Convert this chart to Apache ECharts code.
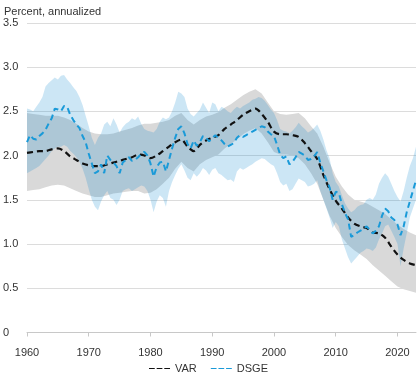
<!DOCTYPE html>
<html><head><meta charset="utf-8">
<script src="https://cdn.jsdelivr.net/npm/echarts@6/dist/echarts.min.js"></script>
<style>html,body{margin:0;padding:0;background:#fff}#c{width:417px;height:384px}</style>
</head><body><div id="c"></div>
<script>
// Annual VAR estimates, 1960-2023
const varStart = 1960;
const varLine = [
  2.03,2.04,2.05,2.05,2.07,2.08,2.05,1.99,1.95,1.91,
  1.89,1.88,1.88,1.90,1.92,1.94,1.96,1.98,2.01,2.00,
  1.97,2.00,2.05,2.10,2.15,2.18,2.10,2.05,2.12,2.17,
  2.20,2.23,2.30,2.35,2.40,2.46,2.50,2.53,2.47,2.38,
  2.27,2.24,2.24,2.23,2.21,2.14,2.05,1.96,1.78,1.62,
  1.49,1.40,1.30,1.23,1.20,1.18,1.13,1.12,1.07,0.97,
  0.88,0.82,0.78,0.76];
const varUpper = [
  2.48,2.47,2.46,2.45,2.45,2.45,2.43,2.40,2.36,2.31,
  2.27,2.25,2.24,2.24,2.25,2.27,2.29,2.31,2.34,2.36,
  2.36,2.37,2.38,2.40,2.45,2.48,2.40,2.35,2.40,2.44,
  2.46,2.49,2.54,2.58,2.63,2.68,2.72,2.75,2.70,2.60,
  2.50,2.47,2.46,2.47,2.48,2.42,2.33,2.25,2.10,1.92,
  1.76,1.65,1.56,1.50,1.48,1.46,1.42,1.38,1.34,1.28,
  1.22,1.17,1.13,1.10];
const varLower = [
  1.60,1.61,1.62,1.64,1.66,1.67,1.66,1.63,1.60,1.57,
  1.55,1.53,1.53,1.55,1.57,1.58,1.59,1.60,1.60,1.57,
  1.58,1.62,1.68,1.75,1.85,1.93,1.86,1.82,1.90,1.95,
  1.98,2.01,2.08,2.13,2.18,2.24,2.28,2.31,2.25,2.15,
  2.04,2.01,2.01,2.00,1.97,1.90,1.80,1.68,1.50,1.32,
  1.18,1.08,0.99,0.93,0.88,0.83,0.76,0.70,0.64,0.58,
  0.52,0.49,0.47,0.45];

// Half-yearly DSGE estimates, 1960.0-2023.0
const dsgeStart = 1960, dsgeStep = 0.5;
const dsgeLine = [
  2.15,2.23,2.19,2.18,2.22,2.25,2.29,2.36,2.42,2.53, 2.52,2.50,2.56,2.55,2.46,2.40,2.35,2.31,2.22,2.15,
  2.02,1.91,1.80,1.82,1.90,1.80,2.00,1.95,1.92,1.88, 1.80,1.92,1.95,1.98,1.94,1.95,1.98,2.02,2.04,2.00,
  1.91,1.76,1.87,1.92,1.93,1.82,1.95,2.08,2.20,2.30, 2.33,2.25,2.13,2.08,2.17,2.11,2.15,2.22,2.20,2.16,
  2.20,2.23,2.20,2.17,2.13,2.10,2.12,2.14,2.20,2.23, 2.21,2.23,2.25,2.27,2.29,2.31,2.33,2.32,2.27,2.24,
  2.22,2.12,2.01,1.97,1.99,1.90,1.93,1.98,2.04,2.02, 2.00,1.95,1.96,1.99,2.04,1.92,1.82,1.72,1.64,1.50,
  1.59,1.58,1.45,1.35,1.28,1.08,1.10,1.13,1.15,1.17, 1.20,1.16,1.12,1.15,1.20,1.32,1.40,1.37,1.30,1.27,
  1.22,1.10,1.20,1.36,1.48,1.60,1.72];
const dsgeUpper = [
  2.53,2.52,2.50,2.55,2.60,2.66,2.78,2.82,2.85,2.88, 2.86,2.90,2.91,2.86,2.82,2.77,2.73,2.66,2.57,2.45,
  2.33,2.20,2.12,2.20,2.25,2.35,2.38,2.33,2.42,2.35, 2.26,2.32,2.36,2.38,2.42,2.40,2.44,2.36,2.30,2.28,
  2.27,2.26,2.30,2.38,2.43,2.41,2.43,2.50,2.60,2.72, 2.70,2.66,2.53,2.47,2.44,2.48,2.52,2.60,2.54,2.48,
  2.60,2.58,2.50,2.55,2.53,2.50,2.48,2.52,2.55,2.53, 2.56,2.58,2.60,2.63,2.64,2.66,2.65,2.62,2.57,2.52,
  2.48,2.40,2.30,2.28,2.27,2.25,2.28,2.32,2.37,2.33, 2.30,2.26,2.28,2.31,2.35,2.28,2.18,2.06,1.97,1.80,
  1.70,1.65,1.55,1.46,1.40,1.36,1.38,1.42,1.44,1.45, 1.50,1.52,1.50,1.56,1.68,1.75,1.80,1.76,1.68,1.60,
  1.53,1.48,1.60,1.75,1.88,1.97,2.10];
const dsgeLower = [
  1.80,1.82,1.84,1.86,1.88,1.92,1.96,2.00,2.05,2.08, 2.10,2.10,2.12,2.10,2.05,2.02,1.98,1.93,1.85,1.75,
  1.62,1.50,1.42,1.38,1.48,1.55,1.60,1.52,1.50,1.44, 1.50,1.60,1.62,1.63,1.60,1.62,1.64,1.66,1.65,1.60,
  1.50,1.36,1.48,1.55,1.52,1.42,1.60,1.70,1.78,1.85, 1.90,1.83,1.75,1.72,1.80,1.76,1.80,1.86,1.83,1.78,
  1.84,1.86,1.80,1.78,1.75,1.72,1.73,1.70,1.82,1.86, 1.84,1.86,1.88,1.90,1.93,1.95,1.97,1.96,1.93,1.90,
  1.88,1.80,1.70,1.66,1.68,1.60,1.62,1.68,1.74,1.72, 1.70,1.65,1.66,1.68,1.72,1.60,1.50,1.40,1.30,1.18,
  1.25,1.20,1.05,0.95,0.85,0.78,0.82,0.86,0.90,0.92, 0.95,0.94,0.92,0.96,1.05,1.12,1.20,1.22,1.15,1.08,
  1.00,0.75,0.95,1.12,1.30,1.40,1.50];

const xTicks = [1960,1970,1980,1990,2000,2010,2020];
const yLabels = ['0','0.5','1.0','1.5','2.0','2.5','3.0','3.5'];
const seriesNames = ['VAR','DSGE'];
const seriesColors = ['#111111','#1a9ad8'];
const unitLabel = 'Percent, annualized';

const varX = varLine.map((_, i) => varStart + i);
const dsgeX = dsgeLine.map((_, i) => dsgeStart + i * dsgeStep);
const pairs = (xs, ys) => xs.map((x, i) => [x, ys[i]]);

const font = 'Liberation Sans, Arial, sans-serif';
const dashIcon = 'path://M0,0h6v1h-6z M8,0h6v1h-6z M16,0h6v1h-6z';

function bandSeries(name, xs, lo, hi, color, z) {
  return {
    name: name, type: 'custom', silent: true, z: z,
    data: xs.map((x, i) => [x, lo[i], hi[i]]),
    encode: {x: 0, y: [1, 2]},
    renderItem: function (params, api) {
      if (params.dataIndex !== 0) return null;
      const top = xs.map((x, i) => api.coord([x, hi[i]]));
      const bot = xs.map((x, i) => api.coord([x, lo[i]])).reverse();
      return {type: 'polygon', shape: {points: top.concat(bot)}, style: {fill: color, stroke: null}};
    }
  };
}

const chart = echarts.init(document.getElementById('c'), null, {renderer: 'canvas'});
chart.setOption({
  animation: false,
  title: {text: unitLabel, left: -1, top: 1, textStyle: {fontSize: 11, fontWeight: 'normal', color: '#333', fontFamily: font}},
  grid: {left: 24, right: 1, top: 22.75, bottom: 51.5, containLabel: false},
  legend: {
    data: seriesNames.map((n, i) => ({name: n, icon: dashIcon, itemStyle: {color: seriesColors[i], borderWidth: 0}})),
    bottom: 5, left: 'center', itemWidth: 21, itemHeight: 2.5, itemGap: 14,
    textStyle: {fontSize: 11, color: '#333', fontFamily: font}
  },
  xAxis: {
    type: 'value', min: 1960, max: 2023, interval: 10,
    axisLine: {show: true, lineStyle: {color: '#c8c8c8', width: 1}},
    axisTick: {show: true, length: 4, lineStyle: {color: '#c8c8c8'}, customValues: xTicks},
    axisLabel: {fontSize: 11, color: '#333', fontFamily: font, margin: 15, customValues: xTicks,
      formatter: v => String(v)},
    splitLine: {show: false}
  },
  yAxis: {
    type: 'value', min: 0, max: 3.5, interval: 0.5,
    axisLine: {show: false}, axisTick: {show: false},
    axisLabel: {fontSize: 11, color: '#333', fontFamily: font, align: 'left', margin: 24,
      formatter: v => yLabels[Math.round(v / 0.5)]},
    splitLine: {lineStyle: {color: '#dcdcdc', width: 1}}
  },
  series: [
    bandSeries('varBand', varX, varLower, varUpper, '#d9d9d9', 1),
    bandSeries('dsgeBand', dsgeX, dsgeLower, dsgeUpper, 'rgba(0,130,205,0.2)', 2),
    {name: seriesNames[0], type: 'line', data: pairs(varX, varLine), symbol: 'none', smooth: 0.3, z: 4,
      lineStyle: {color: seriesColors[0], width: 2.2, type: [6, 4]}, itemStyle: {color: seriesColors[0]}},
    {name: seriesNames[1], type: 'line', data: pairs(dsgeX, dsgeLine), symbol: 'none', z: 5,
      lineStyle: {color: seriesColors[1], width: 2, type: [6, 4]}, itemStyle: {color: seriesColors[1]}}
  ]
});
</script></body></html>
